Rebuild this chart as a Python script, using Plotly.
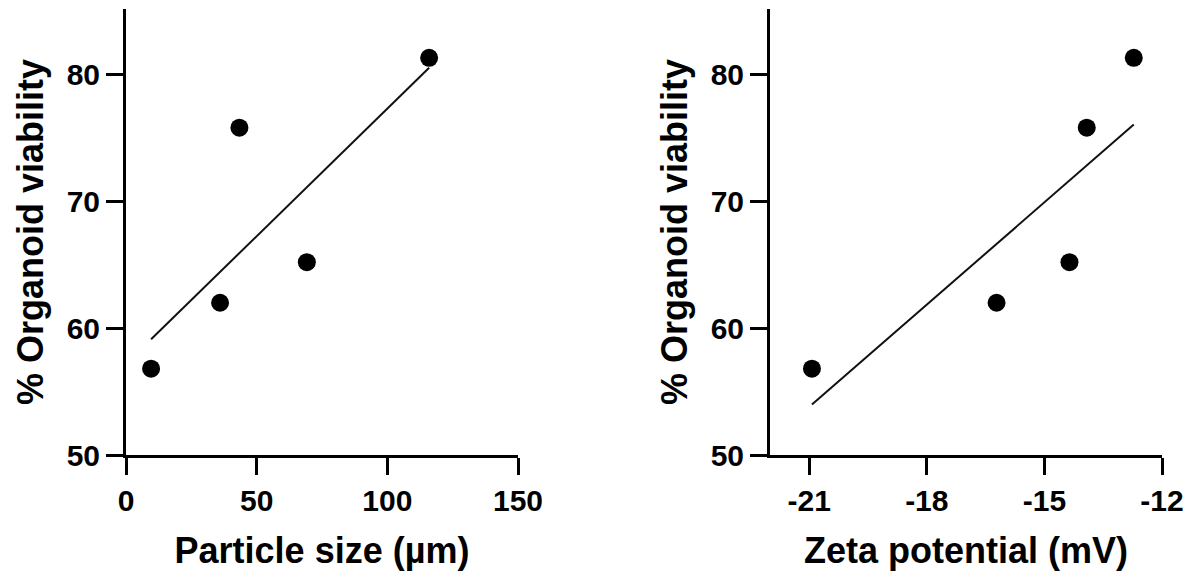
import numpy as np
import plotly.graph_objects as go
from plotly.subplots import make_subplots

# ---- data ----
particle_size_um = [9.6, 36.0, 43.4, 69.2, 116.0]
zeta_potential_mV = [-20.93, -16.22, -13.92, -14.36, -12.72]
organoid_viability = [56.8, 62.0, 75.8, 65.2, 81.3]

x1_ticks = [0, 50, 100, 150]
x1_ticktext = ["0", "50", "100", "150"]
x2_ticks = [-21, -18, -15, -12]
x2_ticktext = ["-21", "-18", "-15", "-12"]
y_ticks = [50, 60, 70, 80]
y_ticktext = ["50", "60", "70", "80"]

W, H = 1194, 576
FONT = "Liberation Sans, Arial, Helvetica, sans-serif"

fig = make_subplots(rows=1, cols=2)

def add_panel(x, y, col):
    fig.add_trace(go.Scatter(x=x, y=y, mode="markers",
                             marker=dict(color="black", size=18),
                             showlegend=False, hoverinfo="x+y"), row=1, col=col)
    slope, icpt = np.polyfit(np.array(x, float), np.array(y, float), 1)
    xs = np.array([min(x), max(x)])
    fig.add_trace(go.Scatter(x=xs, y=slope * xs + icpt, mode="lines",
                             line=dict(color="#111111", width=2),
                             showlegend=False, hoverinfo="skip"), row=1, col=col)

add_panel(particle_size_um, organoid_viability, 1)
add_panel(zeta_potential_mV, organoid_viability, 2)

axis_common = dict(showgrid=False, zeroline=False, showline=True, linecolor="black",
                   linewidth=3, ticks="outside", ticklen=17, tickwidth=3, tickcolor="black",
                   tickfont=dict(family=FONT, size=30, color="black", weight="bold"),
                   automargin=False)

title_font = dict(family=FONT, size=36, color="black", weight="bold")

fig.update_xaxes(**axis_common)
fig.update_yaxes(**axis_common)

fig.update_layout(
    width=W, height=H,
    margin=dict(l=0, r=0, t=9, b=121),
    plot_bgcolor="white", paper_bgcolor="white",
    xaxis=dict(domain=[126 / W, 518 / W], range=[0, 150],
               tickvals=x1_ticks, ticktext=x1_ticktext,
               title=dict(text="Particle size (µm)", font=title_font, standoff=22)),
    xaxis2=dict(domain=[770 / W, 1162 / W], range=[-22, -12],
                tickvals=x2_ticks, ticktext=x2_ticktext,
                title=dict(text="Zeta potential (mV)", font=title_font, standoff=22)),
    yaxis=dict(range=[50, 85.15], tickvals=y_ticks, ticktext=y_ticktext,
               title=dict(text="% Organoid viability", font=title_font, standoff=13)),
    yaxis2=dict(range=[50, 85.15], tickvals=y_ticks, ticktext=y_ticktext,
                title=dict(text="% Organoid viability", font=title_font, standoff=13)),
)

fig.write_html("out.html", config={"displayModeBar": False},
               post_script="document.body.style.margin='0';")
